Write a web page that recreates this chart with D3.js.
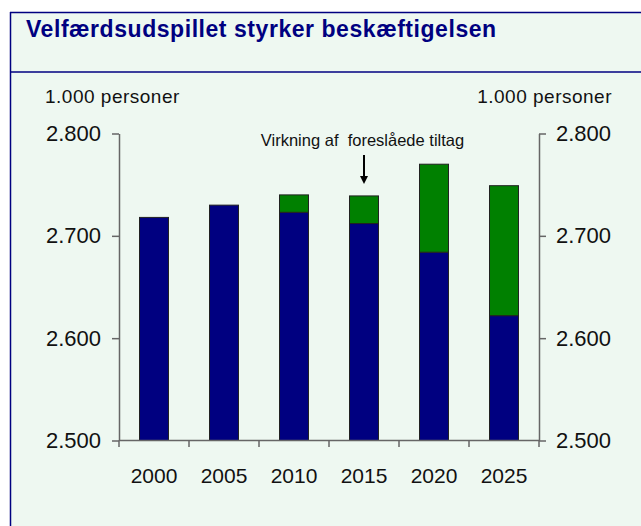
<!DOCTYPE html>
<html><head><meta charset="utf-8">
<script src="https://cdn.jsdelivr.net/npm/d3@7"></script>
<style>html,body{margin:0;padding:0;background:#fff;}svg{display:block;}</style>
</head><body>
<script>
const years = ["2000","2005","2010","2015","2020","2025"];
const baseValues = [2718, 2730, 2723, 2712, 2684, 2622];
const effectValues = [0, 0, 17, 27, 86, 127];
const yTicks = [2500, 2600, 2700, 2800];
const titleText = "Velfærdsudspillet styrker beskæftigelsen";
const unitLabel = "1.000 personer";
const annotationText = "Virkning af  foreslåede tiltag";

const W = 641, H = 526;
const svg = d3.select("body").append("svg").attr("width", W).attr("height", H);
const bg = "#eef8f1", navy = "#000080", green = "#008000";

svg.append("rect").attr("x", 10).attr("y", 12).attr("width", W - 10).attr("height", H - 12).attr("fill", bg);
svg.append("line").attr("x1", 10.5).attr("x2", 10.5).attr("y1", 12).attr("y2", H).attr("stroke", navy).attr("stroke-width", 1.5);
svg.append("line").attr("x1", 10).attr("x2", W).attr("y1", 12.5).attr("y2", 12.5).attr("stroke", navy).attr("stroke-width", 1.5);
svg.append("line").attr("x1", 10).attr("x2", W).attr("y1", 72).attr("y2", 72).attr("stroke", navy).attr("stroke-width", 1.5);

const font = "Liberation Sans, Arial, sans-serif";
svg.append("text").attr("x", 26).attr("y", 37).text(titleText)
  .attr("font-family", font).attr("font-weight", "bold")
  .attr("font-size", 23).attr("letter-spacing", 0.55).attr("fill", navy);

const x = d3.scaleBand().domain(years).range([119, 539]).paddingInner(0.586).paddingOuter(0.293);
const y = d3.scaleLinear().domain([2500, 2800]).range([440.5, 133.5]);

// bars
const data = years.map((yr, i) => ({yr, base: baseValues[i], eff: effectValues[i]}));
const g = svg.append("g");
g.selectAll("rect.base").data(data).join("rect").attr("class", "base")
  .attr("x", d => x(d.yr)).attr("width", x.bandwidth())
  .attr("y", d => y(d.base)).attr("height", d => y(2500) - y(d.base))
  .attr("fill", navy).attr("stroke", "#222").attr("stroke-width", 1);
g.selectAll("rect.eff").data(data.filter(d => d.eff > 0)).join("rect").attr("class", "eff")
  .attr("x", d => x(d.yr)).attr("width", x.bandwidth())
  .attr("y", d => y(d.base + d.eff)).attr("height", d => y(d.base) - y(d.base + d.eff))
  .attr("fill", green).attr("stroke", "#222").attr("stroke-width", 1);

const fmt = v => d3.format(",")(v).replace(",", ".");
const axisColor = "#666";
const ya = svg.append("g").attr("transform", "translate(119,0)")
  .call(d3.axisLeft(y).tickValues(yTicks).tickFormat(fmt).tickSize(7).tickSizeOuter(0).tickPadding(11));
const yb = svg.append("g").attr("transform", "translate(539,0)")
  .call(d3.axisRight(y).tickValues(yTicks).tickFormat(fmt).tickSize(7).tickSizeOuter(0).tickPadding(10));
const xa = svg.append("g").attr("transform", "translate(0,440.5)")
  .call(d3.axisBottom(x).tickSize(0).tickPadding(28));
const bounds = d3.range(years.length + 1).map(i => 119 + i * (420 / years.length));
svg.append("g").selectAll("line").data(bounds).join("line")
  .attr("x1", d => d).attr("x2", d => d).attr("y1", 440.5).attr("y2", 447)
  .attr("stroke", axisColor).attr("stroke-width", 1.5);

[ya, yb, xa].forEach(a => {
  a.select(".domain").attr("stroke", axisColor).attr("stroke-width", 1.5);
  a.selectAll(".tick line").attr("stroke", axisColor).attr("stroke-width", 1.5);
  a.selectAll("text").attr("font-family", font).attr("font-size", 22).attr("fill", "#111");
});
xa.selectAll("text").attr("font-size", 21);
xa.select(".domain").attr("d", "M119,0H539");

svg.append("text").attr("x", 45).attr("y", 103).text(unitLabel)
  .attr("font-family", font).attr("font-size", 19).attr("letter-spacing", 0.5).attr("fill", "#111");
svg.append("text").attr("x", 612).attr("y", 103).attr("text-anchor", "end").text(unitLabel)
  .attr("font-family", font).attr("font-size", 19).attr("letter-spacing", 0.5).attr("fill", "#111");

svg.append("text").attr("x", 362.5).attr("y", 146).attr("text-anchor", "middle").text(annotationText)
  .attr("font-family", font).attr("font-size", 16.5).attr("fill", "#111").style("white-space", "pre");
const ax = x("2015") + x.bandwidth() / 2;
svg.append("line").attr("x1", ax).attr("x2", ax).attr("y1", 155).attr("y2", 178)
  .attr("stroke", "#000").attr("stroke-width", 2);
svg.append("path").attr("d", `M${ax - 4},176L${ax + 4},176L${ax},184Z`).attr("fill", "#000");
</script>
</body></html>
